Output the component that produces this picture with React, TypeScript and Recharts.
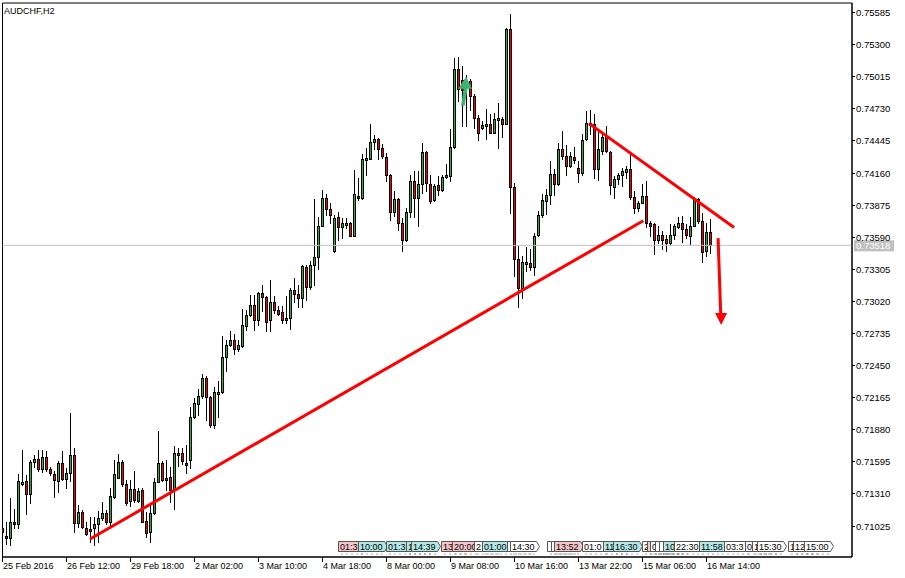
import React from "react";
import { ComposedChart, Bar, XAxis, YAxis, ReferenceLine, ReferenceDot, ReferenceArea } from "recharts";

const FONT = "'Liberation Sans', Arial, sans-serif";
const BULL = "#22B822";
const BEAR = "#FF0000";

const symbolTitle = "AUDCHF,H2";
const currentPrice = 0.73518;

const xTickBars = [0, 16, 32, 48, 64, 80, 96, 112, 128, 144, 160, 176];
const xTickLabels = ["25 Feb 2016", "26 Feb 12:00", "29 Feb 18:00", "2 Mar 02:00", "3 Mar 10:00", "4 Mar 18:00", "8 Mar 00:00", "9 Mar 08:00", "10 Mar 16:00", "13 Mar 22:00", "15 Mar 06:00", "16 Mar 14:00"];
const yTicks = [0.71025, 0.7131, 0.71595, 0.7188, 0.72165, 0.7245, 0.72735, 0.7302, 0.73305, 0.7359, 0.73875, 0.7416, 0.74445, 0.7473, 0.75015, 0.753, 0.75585];

const opens = [
0.71004,0.70936,0.70915,0.71058,0.71040,0.71417,0.71425,0.71307,0.71592,0.71618,
0.71529,0.71636,0.71529,0.71488,0.71425,0.71583,0.71443,0.71494,0.71657,0.71049,
0.71147,0.71010,0.70998,0.71004,0.71040,0.71099,0.71138,0.71058,0.71286,0.71455,
0.71592,0.71396,0.71250,0.71354,0.71250,0.71345,0.71069,0.70969,0.71138,0.71420,
0.71583,0.71431,0.71464,0.71345,0.71672,0.71672,0.71586,0.71612,0.71991,0.72110,
0.72184,0.72339,0.72175,0.71923,0.72211,0.72211,0.72523,0.72629,0.72680,0.72597,
0.72626,0.72804,0.72896,0.72991,0.72858,0.73095,0.73060,0.72852,0.73015,0.72944,
0.72926,0.72852,0.72873,0.73125,0.73089,0.73051,0.73327,0.73149,0.73347,0.73416,
0.73694,0.73941,0.73837,0.73466,0.73772,0.73683,0.73712,0.73718,0.73605,0.73956,
0.73938,0.74288,0.74288,0.74439,0.74466,0.74386,0.74306,0.74139,0.73816,0.73932,
0.73718,0.73564,0.73816,0.74089,0.73941,0.74059,0.74347,0.74059,0.73920,0.74050,
0.74009,0.74128,0.74133,0.74395,0.75083,0.74988,0.74940,0.74979,0.74840,0.74653,
0.74564,0.74579,0.74599,0.74519,0.74644,0.74644,0.74599,0.75439,0.74039,0.73398,
0.73140,0.73371,0.73362,0.73324,0.73614,0.73784,0.73911,0.73962,0.74148,0.74059,
0.74371,0.74312,0.74223,0.74306,0.74208,0.74157,0.74460,0.74608,0.74593,0.74193,
0.74356,0.74490,0.74347,0.74039,0.74110,0.74140,0.74169,0.74199,0.73950,0.73852,
0.73896,0.73956,0.73712,0.73703,0.73564,0.73606,0.73570,0.73540,0.73606,0.73683,
0.73712,0.73659,0.73600,0.73694,0.73932,0.73733,0.73466,0.73635
];

const highs = [
0.71034,0.71064,0.71277,0.71176,0.71485,0.71701,0.71479,0.71612,0.71657,0.71701,
0.71701,0.71687,0.71553,0.71515,0.71604,0.71687,0.71538,0.72028,0.71716,0.71212,
0.71167,0.71064,0.71108,0.71108,0.71159,0.71242,0.71167,0.71366,0.71612,0.71663,
0.71612,0.71434,0.71434,0.71515,0.71360,0.71360,0.71153,0.71212,0.71455,0.71865,
0.71604,0.71612,0.71553,0.71740,0.71716,0.71720,0.71746,0.72086,0.72161,0.72241,
0.72377,0.72353,0.72181,0.72259,0.72309,0.72715,0.72674,0.72760,0.72733,0.72680,
0.72953,0.72947,0.73080,0.73080,0.73101,0.73169,0.73066,0.73214,0.73071,0.72982,
0.72982,0.73066,0.73140,0.73229,0.73169,0.73347,0.73339,0.73377,0.73932,0.73772,
0.74006,0.73970,0.73890,0.73784,0.73813,0.73763,0.73763,0.73724,0.74187,0.74119,
0.74326,0.74386,0.74599,0.74495,0.74475,0.74415,0.74341,0.74148,0.74000,0.73941,
0.73763,0.73852,0.74139,0.74178,0.74178,0.74424,0.74356,0.74139,0.74059,0.74133,
0.74139,0.74237,0.74549,0.75178,0.75187,0.75113,0.75030,0.74994,0.74860,0.74673,
0.74623,0.74733,0.74682,0.74691,0.74780,0.74662,0.75448,0.75572,0.74074,0.73510,
0.73421,0.73505,0.73481,0.73629,0.73822,0.73970,0.74021,0.74267,0.74193,0.74430,
0.74534,0.74407,0.74347,0.74395,0.74267,0.74504,0.74712,0.74721,0.74682,0.74555,
0.74519,0.74579,0.74356,0.74134,0.74163,0.74208,0.74223,0.74326,0.74000,0.73911,
0.74059,0.74089,0.73733,0.73718,0.73689,0.73644,0.73614,0.73703,0.73703,0.73771,
0.73777,0.73703,0.73771,0.73950,0.73941,0.73807,0.73718,0.73748
];

const lows = [
0.70930,0.70862,0.70856,0.71004,0.71004,0.71390,0.71129,0.71233,0.71553,0.71515,
0.71509,0.71515,0.71479,0.71286,0.71325,0.71431,0.71360,0.71425,0.70975,0.71019,
0.71010,0.70945,0.70886,0.70856,0.70886,0.71078,0.71040,0.71034,0.71277,0.71449,
0.71381,0.71212,0.71203,0.71242,0.71242,0.71058,0.70930,0.70886,0.71129,0.71414,
0.71425,0.71345,0.71242,0.71176,0.71559,0.71580,0.71497,0.71541,0.71983,0.72012,
0.72161,0.71968,0.71902,0.71894,0.71997,0.72205,0.72398,0.72620,0.72555,0.72576,
0.72615,0.72769,0.72887,0.72769,0.72813,0.72932,0.72760,0.72760,0.72917,0.72902,
0.72828,0.72828,0.72775,0.73012,0.72971,0.72971,0.73030,0.73131,0.73169,0.73309,
0.73689,0.73784,0.73712,0.73457,0.73564,0.73585,0.73674,0.73599,0.73599,0.73920,
0.73932,0.74142,0.74282,0.74371,0.74282,0.74297,0.74089,0.73742,0.73777,0.73653,
0.73466,0.73555,0.73772,0.73772,0.73694,0.73979,0.74000,0.73896,0.73911,0.73961,
0.74000,0.74119,0.74089,0.74386,0.74801,0.74579,0.74579,0.74721,0.74564,0.74454,
0.74549,0.74460,0.74513,0.74513,0.74386,0.74484,0.74593,0.73801,0.73243,0.72970,
0.73051,0.73288,0.73303,0.73258,0.73600,0.73772,0.73792,0.73881,0.73962,0.74050,
0.74282,0.74140,0.74217,0.74252,0.74080,0.74140,0.74454,0.74504,0.74119,0.74098,
0.74326,0.74347,0.73970,0.73941,0.74059,0.74044,0.74119,0.73932,0.73801,0.73822,
0.73890,0.73683,0.73600,0.73445,0.73540,0.73481,0.73466,0.73525,0.73570,0.73674,
0.73546,0.73585,0.73534,0.73689,0.73718,0.73368,0.73427,0.73451
];

const closes = [
0.70975,0.70915,0.71064,0.71040,0.71425,0.71420,0.71307,0.71592,0.71618,0.71529,
0.71636,0.71532,0.71494,0.71434,0.71583,0.71440,0.71494,0.71657,0.71049,0.71147,
0.71013,0.70951,0.70980,0.71040,0.71093,0.71138,0.71058,0.71292,0.71485,0.71592,
0.71396,0.71233,0.71354,0.71256,0.71337,0.71064,0.70966,0.71138,0.71414,0.71583,
0.71434,0.71449,0.71345,0.71672,0.71675,0.71600,0.71572,0.71991,0.72116,0.72184,
0.72339,0.72169,0.71923,0.72211,0.72214,0.72526,0.72629,0.72680,0.72597,0.72635,
0.72813,0.72902,0.72991,0.72858,0.73095,0.73057,0.72834,0.73015,0.72941,0.72911,
0.72858,0.72873,0.73125,0.73086,0.73051,0.73332,0.73149,0.73347,0.73416,0.73694,
0.73941,0.73843,0.73784,0.73763,0.73683,0.73712,0.73718,0.73605,0.73970,0.73938,
0.74288,0.74291,0.74439,0.74466,0.74377,0.74312,0.74139,0.73816,0.73932,0.73718,
0.73564,0.73816,0.74089,0.73941,0.74059,0.74347,0.74068,0.73911,0.74044,0.74009,
0.74125,0.74142,0.74395,0.75083,0.74905,0.74899,0.74988,0.74840,0.74653,0.74519,
0.74584,0.74599,0.74519,0.74638,0.74647,0.74599,0.75439,0.74039,0.73398,0.73140,
0.73371,0.73374,0.73324,0.73599,0.73784,0.73920,0.73962,0.74148,0.74059,0.74371,
0.74312,0.74223,0.74312,0.74276,0.74157,0.74454,0.74602,0.74593,0.74193,0.74371,
0.74484,0.74356,0.74050,0.74110,0.74140,0.74178,0.74199,0.73950,0.73852,0.73896,
0.73956,0.73712,0.73689,0.73564,0.73606,0.73564,0.73540,0.73606,0.73689,0.73712,
0.73659,0.73606,0.73694,0.73932,0.73733,0.73457,0.73635,0.73518
];

// trend lines (bar index, price)
const supportLine = [{ x: 21.9, y: 0.7091 }, { x: 160.2, y: 0.73736 }];
const resistanceLine = [{ x: 146.6, y: 0.74601 }, { x: 182.9, y: 0.73677 }];
const downArrow = [{ x: 178.9, y: 0.73582 }, { x: 179.6, y: 0.72858 }];
const downArrowTip = { x: 179.65, y: 0.7281 };
const buyArrowTip = { x: 115.9, y: 0.75015 };

// trade history tags along the bottom
const tagBars = [83.9, 88.9, 95.9, 100.9, 102.1, 109.6, 112.4, 117.9, 119.9, 126.1, 126.9, 136.1, 137.1, 137.9, 144.9, 150.1, 152.6, 159.9, 161.1, 161.9, 163.1, 164.1, 165.1, 167.9, 174.1, 180.4, 185.6, 187.4, 188.6, 196.4, 197.6, 200.4];
const tagTexts = ["01:30", "10:00", "01:30", "10:00", "14:39", "13:30", "20:00", "22:00", "01:00", "10:00", "14:30", "08:00", "10:00", "13:52", "01:00", "11:00", "16:30", "20:00", "01:30", "02:00", "04:00", "06:00", "10:00", "22:30", "11:58", "03:30", "08:00", "10:00", "15:30", "10:00", "12:00", "15:00"];
const tagKinds = ["p", "c", "c", "c", "c", "p", "p", "w", "c", "w", "w", "w", "w", "p", "w", "c", "c", "w", "p", "w", "w", "w", "c", "w", "c", "w", "w", "w", "w", "w", "w", "w"];
const tagLevel = 0.70839;

const X_DOMAIN: [number, number] = [0, 212.375];
const Y_DOMAIN: [number, number] = [0.7075, 0.7567];
const CHART_W = 905;
const CHART_H = 578;
const Y_AXIS_W = 53;
const LEFT_M = 2.5;
const PX_PER_BAR = (CHART_W - Y_AXIS_W - LEFT_M) / (X_DOMAIN[1] - X_DOMAIN[0]);

const rows = opens.map((o, i) => ({ i, o, h: highs[i], l: lows[i], c: closes[i] }));

// the part of each tag's text that is not covered by the next tag
const charW = (ch: string) => (ch === ":" ? 2.5 : 5);
const visibleText = (k: number) => {
  const text = tagTexts[k];
  if (k === tagBars.length - 1) return text;
  const gap = (tagBars[k + 1] - tagBars[k]) * PX_PER_BAR;
  let pos = 1.5;
  let out = "";
  for (const ch of text) {
    if (pos + charW(ch) * 0.5 >= gap) break;
    out += ch;
    pos += charW(ch);
  }
  return out;
};

const Candle = (props: any) => {
  const { x, y, width, height, payload } = props;
  if (!payload || x == null || y == null) return <g />;
  const cx = Math.round(x + width / 2 - 0.5) + 0.5;
  const y1 = Math.min(y, y + height);
  const y2 = Math.max(y, y + height);
  const span = payload.h - payload.l;
  const at = (v: number) => (span > 0 ? y1 + ((payload.h - v) / span) * (y2 - y1) : y1);
  const bt = Math.round(Math.min(at(payload.o), at(payload.c)));
  let bb = Math.round(Math.max(at(payload.o), at(payload.c)));
  if (bb - bt < 2) bb = bt + 2;
  const up = payload.c >= payload.o;
  return (
    <g>
      <line x1={cx} x2={cx} y1={Math.round(y1)} y2={Math.round(y2) + 1} stroke="#000" strokeWidth={1} />
      <rect x={cx - 1} y={bt + 0.5} width={2} height={bb - bt} fill={up ? BULL : BEAR} stroke="#000" strokeWidth={1} />
    </g>
  );
};

const XTick = (props: any) => {
  const { x, y, payload } = props;
  const idx = xTickBars.indexOf(payload.value);
  const px = Math.round(x - 0.5) + 0.5;
  return (
    <g>
      <line x1={px} x2={px} y1={y} y2={y + 5} stroke="#000" strokeWidth={1} />
      <text x={px + 0.5} y={y + 12} fontSize={9} fontFamily={FONT} fill="#000" textAnchor="start">
        {idx >= 0 ? xTickLabels[idx] : ""}
      </text>
    </g>
  );
};

const YTick = (props: any) => {
  const { x, y, payload } = props;
  const py = Math.round(y - 0.5) + 0.5;
  return (
    <g>
      <line x1={x} x2={x + 3} y1={py} y2={py} stroke="#000" strokeWidth={1} />
      <text x={x + 4} y={py + 3.5} fontSize={9.5} fontFamily={FONT} fill="#000">
        {Number(payload.value).toFixed(5)}
      </text>
    </g>
  );
};

const PriceTag = (props: any) => {
  const vb = props.viewBox || {};
  const x = (vb.x || 0) + (vb.width || 0);
  const y = vb.y || 0;
  return (
    <g>
      <rect x={x + 2} y={y - 5} width={40} height={11} fill="#C0C0C0" />
      <text x={x + 4} y={y + 3.5} fontSize={9.5} fontFamily={FONT} fill="#FFFFFF">
        {currentPrice.toFixed(5)}
      </text>
    </g>
  );
};

const tagFill: Record<string, string> = { p: "#F7C4CB", c: "#B2E8E8", w: "#FFFFFF" };

const makeTag = (k: number) => (props: any) => {
  const { cx, cy } = props;
  if (cx == null || cy == null) return <g />;
  const text = tagTexts[k];
  const shown = visibleText(k);
  const x0 = Math.round(cx) + 0.5;
  const top = Math.round(cy) - 5.5;
  const bot = top + 10;
  const w = text.length * 5 + 1;
  const pts = `${x0},${top} ${x0 + w},${top} ${x0 + w + 3},${(top + bot) / 2} ${x0 + w},${bot} ${x0},${bot}`;
  return (
    <g>
      <polygon points={pts} fill={tagFill[tagKinds[k]]} stroke="#555" strokeWidth={1} />
      <line x1={x0 + 3} x2={x0 + w - 2} y1={bot + 2.5} y2={bot + 2.5} stroke="#555" strokeWidth={1} strokeDasharray="1 4" />
      {shown ? (
        <text x={x0 + 1.5} y={bot - 1.5} fontSize={9} fontFamily={FONT} fill="#000">{shown}</text>
      ) : null}
    </g>
  );
};

const BuyArrow = (props: any) => {
  const { cx, cy } = props;
  if (cx == null || cy == null) return <g />;
  const p = [[0, 0], [6, 12], [1.5, 12], [-1.5, 29], [-5, 29], [-2.5, 12], [-8, 12]]
    .map(([dx, dy]) => `${cx + dx},${cy + dy}`).join(" ");
  return <polygon points={p} fill="#3CB371" />;
};

const ArrowHead = (props: any) => {
  const { cx, cy } = props;
  if (cx == null || cy == null) return <g />;
  const p = [[0, 0], [-6, -12], [6, -12]].map(([dx, dy]) => `${cx + dx},${cy + dy}`).join(" ");
  return <polygon points={p} fill="#FF0000" />;
};

export default function App() {
  return (
    <div style={{ position: "absolute", left: 0, top: 0, width: CHART_W, height: CHART_H, background: "#fff" }}>
      <ComposedChart
        width={CHART_W}
        height={CHART_H}
        data={rows}
        margin={{ top: 3, right: 0, bottom: 0, left: LEFT_M }}
      >
        <XAxis
          dataKey="i"
          type="number"
          domain={X_DOMAIN}
          allowDataOverflow
          ticks={xTickBars}
          interval={0}
          tick={<XTick />}
          tickSize={0}
          tickMargin={0}
          tickLine={false}
          axisLine={{ stroke: "#000" }}
          height={21}
        />
        <YAxis
          orientation="right"
          type="number"
          domain={Y_DOMAIN}
          allowDataOverflow
          ticks={yTicks}
          interval={0}
          tick={<YTick />}
          tickSize={0}
          tickMargin={0}
          tickLine={false}
          axisLine={{ stroke: "#000" }}
          width={Y_AXIS_W}
        />
        <ReferenceArea x1={X_DOMAIN[0]} x2={X_DOMAIN[1]} y1={Y_DOMAIN[0]} y2={Y_DOMAIN[1]} fill="none" fillOpacity={0} stroke="#000" strokeWidth={1} ifOverflow="visible" />
        <ReferenceLine y={currentPrice} stroke="#C0C0C0" strokeWidth={1} label={<PriceTag />} />
        <Bar
          dataKey={(d: any) => [d.l, d.h]}
          barSize={3}
          isAnimationActive={false}
          shape={(p: any) => <Candle {...p} />}
        />
        <ReferenceLine segment={supportLine} stroke="#FF0000" strokeWidth={3} />
        <ReferenceLine segment={resistanceLine} stroke="#FF0000" strokeWidth={3} />
        <ReferenceLine segment={downArrow} stroke="#FF0000" strokeWidth={3} />
        <ReferenceDot x={downArrowTip.x} y={downArrowTip.y} r={1} shape={ArrowHead} />
        <ReferenceDot x={buyArrowTip.x} y={buyArrowTip.y} r={1} shape={BuyArrow} />
        {tagBars.map((b, k) => (
          <ReferenceDot key={k} x={b} y={tagLevel} r={1} shape={makeTag(k)} />
        ))}
      </ComposedChart>
      <svg width={CHART_W} height={20} style={{ position: "absolute", left: 0, top: 0, pointerEvents: "none" }}>
        <text x={4} y={13.5} fontSize={9} fontFamily={FONT} fill="#000">{symbolTitle}</text>
      </svg>
    </div>
  );
}
